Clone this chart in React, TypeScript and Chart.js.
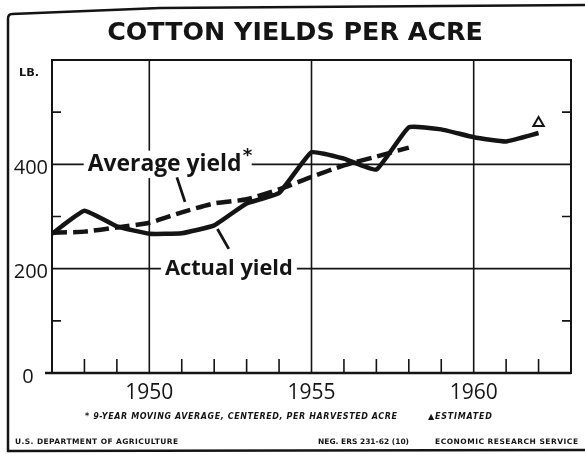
import React, { useEffect, useRef } from 'react';
import { Chart, registerables } from 'chart.js';

Chart.register(...registerables);

// ---- Data ----
const years = [1947, 1948, 1949, 1950, 1951, 1952, 1953, 1954, 1955, 1956, 1957, 1958, 1959, 1960, 1961, 1962];
const actualYield = [267, 311, 281, 267, 268, 283, 325, 345, 423, 411, 390, 471, 467, 452, 444, 460];
const averageYears = [1947, 1948, 1949, 1950, 1951, 1952, 1953, 1954, 1955, 1956, 1957, 1958];
const averageYield = [269, 271, 279, 288, 308, 325, 333, 352, 376, 398, 415, 432];
const estimateYears = [1962];
const estimateValues = [479];

const yLabelValues = [0, 200, 400];
const yLabels = ['0', '200', '400'];
const yGridValues = [200, 400];
const yMinorValues = [100, 300, 500];
const xLabelValues = [1950, 1955, 1960];
const xLabels = ['1950', '1955', '1960'];

const title = 'COTTON YIELDS PER ACRE';
const unitLabel = 'LB.';
const averageLabel = 'Average yield';
const actualLabel = 'Actual yield';
const footnote = '* 9-YEAR MOVING AVERAGE, CENTERED, PER HARVESTED ACRE';
const estimateNote = '▲ESTIMATED';
const sourceLeft = 'U.S. DEPARTMENT OF AGRICULTURE';
const sourceMid = 'NEG. ERS 231-62 (10)';
const sourceRight = 'ECONOMIC RESEARCH SERVICE';

const INK = '#141414';

function fitFont(ctx: CanvasRenderingContext2D, text: string, style: string, family: string, target: number) {
  ctx.font = `${style} 100px ${family}`;
  const w = ctx.measureText(text).width;
  const size = (100 * target) / w;
  ctx.font = `${style} ${size}px ${family}`;
  return size;
}

function spacedText(
  ctx: CanvasRenderingContext2D,
  text: string,
  font: string,
  xLeft: number,
  xRight: number,
  yMid: number
) {
  ctx.font = font;
  (ctx as any).letterSpacing = '0px';
  const w = ctx.measureText(text).width;
  const ls = Math.max(0, (xRight - xLeft - w) / Math.max(1, text.length - 1));
  (ctx as any).letterSpacing = `${ls}px`;
  ctx.textAlign = 'left';
  ctx.textBaseline = 'middle';
  ctx.fillText(text, xLeft, yMid);
  (ctx as any).letterSpacing = '0px';
}

const decorPlugin = {
  id: 'decor',
  beforeDatasetsDraw(chart: any) {
    const { ctx, chartArea, scales } = chart;
    const { left, right, top, bottom } = chartArea;
    const x = scales.x;
    const y = scales.y;
    ctx.save();
    ctx.strokeStyle = INK;
    ctx.lineCap = 'butt';

    // grid lines
    ctx.lineWidth = 1.6;
    yGridValues.forEach((v) => {
      const py = y.getPixelForValue(v);
      ctx.beginPath();
      ctx.moveTo(left, py);
      ctx.lineTo(right, py);
      ctx.stroke();
    });
    xLabelValues.forEach((v) => {
      const px = x.getPixelForValue(v);
      ctx.beginPath();
      ctx.moveTo(px, top);
      ctx.lineTo(px, bottom);
      ctx.stroke();
    });

    // minor ticks
    yMinorValues.forEach((v) => {
      const py = y.getPixelForValue(v);
      ctx.beginPath();
      ctx.moveTo(left, py);
      ctx.lineTo(left + 9, py);
      ctx.moveTo(right, py);
      ctx.lineTo(right - 9, py);
      ctx.stroke();
    });
    years.concat([1963]).forEach((yr) => {
      if (xLabelValues.includes(yr) || yr === 1947 || yr === 1963) return;
      const px = x.getPixelForValue(yr);
      ctx.beginPath();
      ctx.moveTo(px, bottom);
      ctx.lineTo(px, bottom - 14);
      ctx.stroke();
    });

    // plot box
    ctx.lineWidth = 2;
    ctx.strokeRect(left, top, right - left, bottom - top);
    // baseline extension to the left
    ctx.lineWidth = 2.5;
    ctx.beginPath();
    ctx.moveTo(left - 7, bottom);
    ctx.lineTo(right, bottom);
    ctx.stroke();
    ctx.restore();
  },
  afterDraw(chart: any) {
    const { ctx, chartArea, scales } = chart;
    const { left, bottom } = chartArea;
    const x = scales.x;
    const y = scales.y;
    const W = chart.width;
    ctx.save();
    ctx.fillStyle = INK;
    ctx.strokeStyle = INK;

    // outer frame
    ctx.lineWidth = 2.5;
    ctx.beginPath();
    ctx.moveTo(W, 5);
    ctx.lineTo(160, 8);
    ctx.lineTo(12, 14);
    ctx.quadraticCurveTo(8, 14, 8, 19);
    ctx.lineTo(8, 451);
    ctx.lineTo(W, 450);
    ctx.stroke();

    // title
    fitFont(ctx, title, 'bold', '"DejaVu Sans"', 376);
    ctx.textAlign = 'center';
    ctx.textBaseline = 'middle';
    ctx.fillText(title, 295, 33);

    // unit label
    fitFont(ctx, unitLabel, 'bold', '"DejaVu Sans"', 20);
    ctx.textAlign = 'left';
    ctx.fillText(unitLabel, 19, 73);

    // y labels
    ctx.font = '20px "Open Sans"';
    yLabelValues.forEach((v, i) => {
      const py = y.getPixelForValue(v) + 4;
      if (v === 0) {
        ctx.textAlign = 'center';
        ctx.fillText(yLabels[i], 28, py);
      } else {
        ctx.textAlign = 'right';
        ctx.fillText(yLabels[i], left - 4, py);
      }
    });

    // x labels
    ctx.font = '21px "Open Sans"';
    ctx.textAlign = 'center';
    xLabelValues.forEach((v, i) => {
      ctx.fillText(xLabels[i], x.getPixelForValue(v), bottom + 20);
    });

    // series labels
    const drawSeriesLabel = (text: string, xStart: number, yVal: number, width: number, star: boolean) => {
      const px = x.getPixelForValue(xStart);
      const py = y.getPixelForValue(yVal);
      const size = fitFont(ctx, text, 'bold', '"Open Sans"', width);
      ctx.fillStyle = '#ffffff';
      ctx.fillRect(px - 4, py - size * 0.6, width + (star ? 14 : 8), size * 1.2);
      ctx.fillStyle = INK;
      ctx.textAlign = 'left';
      ctx.textBaseline = 'middle';
      ctx.fillText(text, px, py);
      if (star) {
        ctx.font = `bold ${size * 0.8}px "DejaVu Sans"`;
        ctx.fillText('*', px + width + 1, py - size * 0.35);
      }
    };
    drawSeriesLabel(averageLabel, 1948.1, 400, 154, true);
    drawSeriesLabel(actualLabel, 1950.48, 200, 128, false);

    // pointer lines
    ctx.lineWidth = 2.8;
    ctx.beginPath();
    ctx.moveTo(x.getPixelForValue(1950.85), y.getPixelForValue(375));
    ctx.lineTo(x.getPixelForValue(1951.1), y.getPixelForValue(328));
    ctx.moveTo(x.getPixelForValue(1952.1), y.getPixelForValue(276));
    ctx.lineTo(x.getPixelForValue(1952.45), y.getPixelForValue(238));
    ctx.stroke();

    // footnotes
    spacedText(ctx, footnote, 'italic bold 8px "DejaVu Sans"', 85, 397, 417);
    spacedText(ctx, estimateNote, 'italic bold 8px "DejaVu Sans"', 428, 492, 417);
    spacedText(ctx, sourceLeft, 'bold 7.5px "DejaVu Sans"', 15, 178, 442);
    spacedText(ctx, sourceMid, 'bold 7.5px "DejaVu Sans"', 318, 406, 442);
    spacedText(ctx, sourceRight, 'bold 7.5px "DejaVu Sans"', 435, 578, 442);

    ctx.restore();
  },
};

export default function App() {
  const ref = useRef<HTMLCanvasElement | null>(null);

  useEffect(() => {
    if (!ref.current) return;
    const chart = new Chart(ref.current, {
      type: 'line',
      data: {
        datasets: [
          {
            label: 'Actual yield',
            data: years.map((yr, i) => ({ x: yr, y: actualYield[i] })),
            borderColor: INK,
            borderWidth: 4.5,
            pointRadius: 0,
            tension: 0.12,
            fill: false,
          },
          {
            label: 'Average yield',
            data: averageYears.map((yr, i) => ({ x: yr, y: averageYield[i] })),
            borderColor: INK,
            borderWidth: 4.5,
            borderDash: [15, 6],
            pointRadius: 0,
            tension: 0.2,
            fill: false,
          },
          {
            label: 'Estimated',
            data: estimateYears.map((yr, i) => ({ x: yr, y: estimateValues[i] })),
            showLine: false,
            pointStyle: 'triangle',
            pointRadius: 6,
            pointBorderWidth: 2,
            pointBackgroundColor: '#ffffff',
            pointBorderColor: INK,
          },
        ],
      },
      options: {
        responsive: false,
        animation: false,
        layout: { padding: { left: 52, right: 14, top: 60, bottom: 81 } },
        plugins: { legend: { display: false }, tooltip: { enabled: false }, title: { display: false } },
        scales: {
          x: { type: 'linear', min: 1947, max: 1963, display: false },
          y: { type: 'linear', min: 0, max: 600, display: false },
        },
      },
      plugins: [decorPlugin],
    });
    return () => chart.destroy();
  }, []);

  return (
    <div style={{ position: 'fixed', left: 0, top: 0, width: 585, height: 454, background: '#fff' }}>
      <canvas ref={ref} width={585} height={454} style={{ display: 'block' }} />
    </div>
  );
}
